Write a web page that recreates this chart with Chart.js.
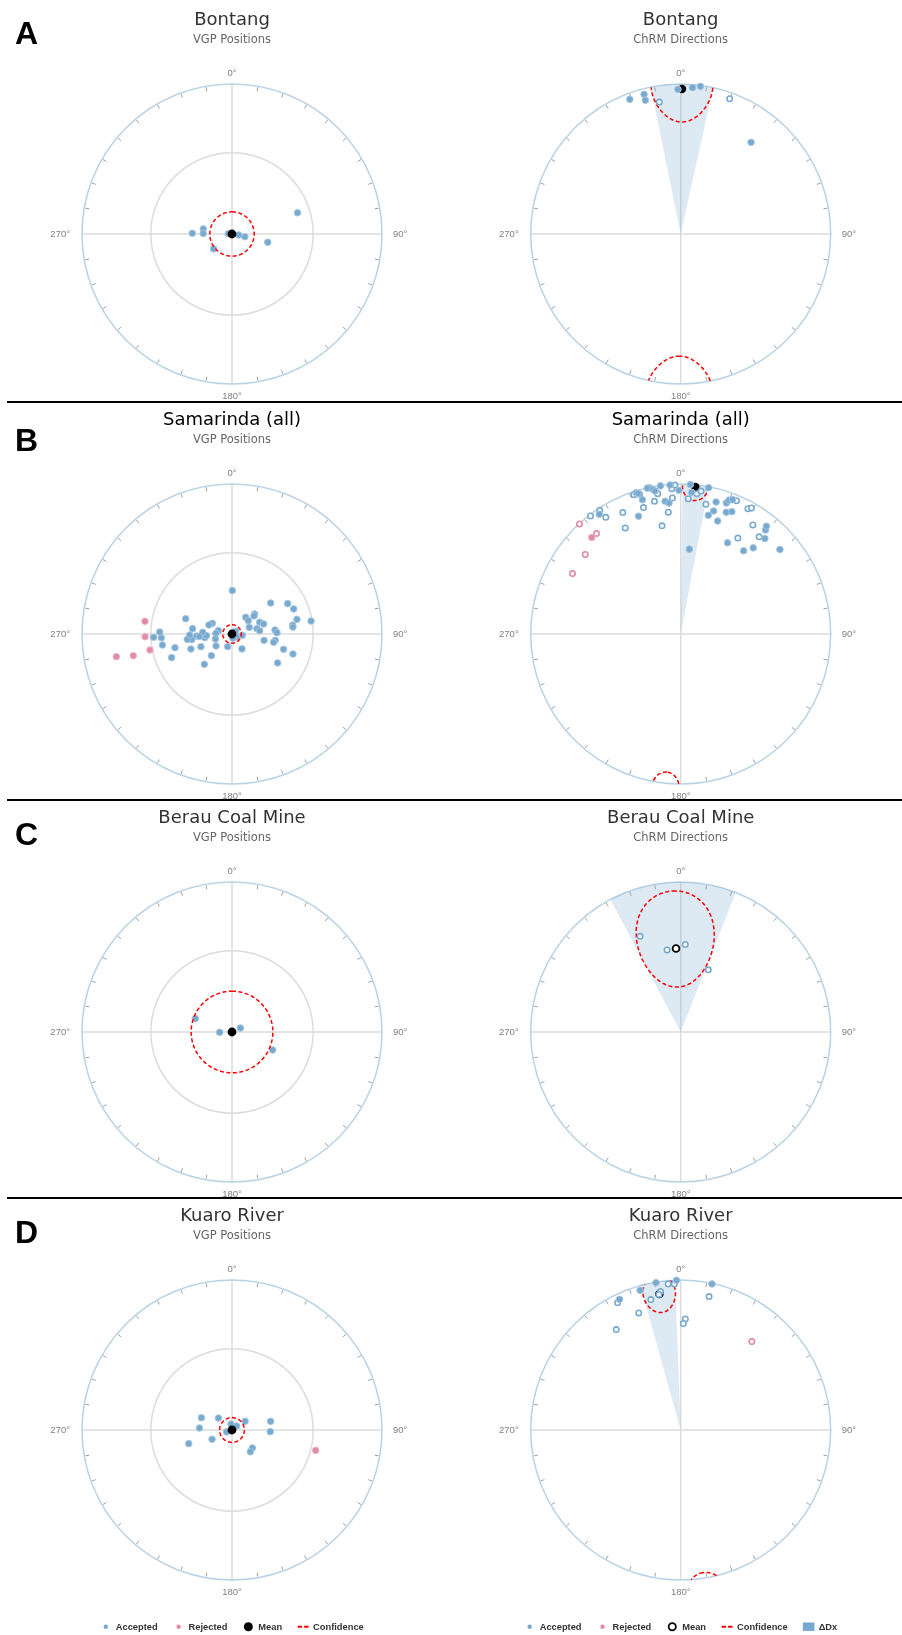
<!DOCTYPE html>
<html lang="en">
<head>
<meta charset="UTF-8">
<title>VGP positions and ChRM directions</title>
<script src="https://cdn.jsdelivr.net/npm/chart.js"></script>
<style>
  body { margin: 0; background: #fff; overflow: hidden; }
  #page { position: relative; width: 902px; height: 1635px; overflow: hidden; background: #fff; }
  canvas { position: absolute; }
  .rule { position: absolute; left: 7px; width: 895px; height: 2px; background: #000; z-index: 2; }
  .letter { position: absolute; left: 15px; z-index: 3; color: #000;
            font: bold 32px "Liberation Sans", Arial, sans-serif; line-height: 32px; }
</style>
</head>
<body>
<div id="page">
  <div class="letter" style="top:16.5px">A</div>
  <div class="letter" style="top:424px">B</div>
  <div class="letter" style="top:818px">C</div>
  <div class="letter" style="top:1216px">D</div>
  <div class="rule" style="top:401px"></div>
  <div class="rule" style="top:799px"></div>
  <div class="rule" style="top:1197px"></div>
</div>
<script>
// ---- labels ----
var azimuthLabels = ['0°', '90°', '180°', '270°'];
var siteNames = ['Bontang', 'Samarinda (all)', 'Berau Coal Mine', 'Kuaro River'];
var plotSubtitles = ['VGP Positions', 'ChRM Directions'];
var vgpLegend = ['Accepted', 'Rejected', 'Mean', 'Confidence'];
var chrmLegend = ['Accepted', 'Rejected', 'Mean', 'Confidence', 'ΔDx'];

// ---- site means (ChRM direction + A95), mean VGP sits at the pole ----
var meanDec = [0.5, 5.7, 356.8, 351.1];
var meanInc = [3.7, 1.7, -43.6, -9.1];
var a95 = [12, 5, 22.2, 6.7];
var meanPoleLon = [0, 0, 0, 0];
var meanPoleLat = [90, 90, 90, 90];

// ---- A: Bontang ----
var bontangVgpLon = [72, 271, 280, 271, 231, 275, 98, 102, 103];
var bontangVgpLat = [52.1, 68.4, 74.2, 74.4, 77.2, 88.0, 86.3, 82.9, 70.1];
var bontangRejVgpLon = [];
var bontangRejVgpLat = [];
var bontangDec = [339.3, 345.3, 345.2, 350.8, 358.9, 4.6, 7.6, 19.9, 37.5];
var bontangInc = [4.5, 4.2, 8.6, -11.9, 4.0, 2.4, 0.8, -4.6, 24.0];
var bontangRejDec = [];
var bontangRejInc = [];

// ---- B: Samarinda (all) ----
var samarindaVgpLon = [0.4, 51.3, 61.4, 67.9, 80.7, 77.3, 81.6, 83.5, 48.6, 50.7, 39.4, 50.8, 67.1, 72.5, 78.0,
  83.1, 69.0, 84.7, 88.3, 98.3, 101.3, 101.2, 106.5, 108.2, 122.4, 146.3, 97.4, 53.1, 122.3, 198.9, 167.5,
  283.7, 272.4, 253.3, 233.1, 223.6, 222.4, 298.5, 291.4, 262.4, 266.3, 273.3, 247.8, 266.8, 249.9, 262.0,
  263.2, 268.6, 277.7, 288.3, 256.5, 248.6, 261.0, 267.0, 271.6, 267.6, 265.9];
var samarindaVgpLat = [66.4, 63.0, 55.2, 53.4, 45.6, 53.4, 56.4, 56.4, 73.6, 74.6, 78.3, 78.6, 73.7, 72.0, 76.2,
  74.9, 80.0, 66.5, 65.5, 66.2, 66.9, 72.3, 60.6, 54.8, 60.5, 80.3, 84.4, 87.5, 87.1, 82.8, 87.7,
  82.4, 81.3, 80.6, 79.2, 73.8, 67.7, 77.9, 76.6, 75.1, 76.1, 74.1, 71.8, 70.8, 66.2, 67.9,
  65.5, 67.0, 68.4, 63.4, 57.9, 54.4, 51.2, 51.0, 50.1, 46.6, 72.2];
var samarindaRejVgpLon = [278.3, 268.2, 259.0, 257.6, 258.9];
var samarindaRejVgpLat = [41.0, 41.6, 43.6, 33.1, 22.5];
var samarindaDec = [348.0, 347.1, 349.1, 349.8, 352.2, 355.9, 359.3, 3.7, 10.8, 342.5, 343.2, 344.1, 353.3, 354.9,
  340.3, 325.8, 15.0, 19.2, 19.8, 21.1, 15.0, 13.1, 20.5, 22.7, 18.1, 27.2, 37.1, 40.1, 41.4, 39.2, 38.5, 49.6,
  5.8, 4.4,
  341.4, 343.6, 350.7, 348.8, 356.5, 356.5, 357.8, 6.6, 8.1, 3.2, 11.0, 22.7, 28.2, 29.3, 33.5, 38.9, 30.8,
  350.2, 354.2, 343.6, 334.5, 332.4, 322.6, 326.8, 327.3];
var samarindaInc = [0.5, 0.3, 2.0, 3.5, 0.4, 0.5, 4.7, 0.2, 0.8, 1.4, 2.3, 7.7, 11.9, 13.4,
  17.7, 3.9, 9.8, 8.3, 5.8, 4.5, 16.2, 19.9, 14.4, 12.6, 21.8, 32.2, 31.1, 25.9, 16.3, 11.5, 9.0, 14.2,
  42.6, 5.9,
  -2.3, -3.3, -5.8, -10.8, -10.0, -3.3, -0.7, -6.5, -4.2, -10.6, -12.9, -4.1, -5.8, -4.1, -13.9, -17.9, -26.5,
  -27.7, -19.5, -13.2, -11.3, -21.3, -1.1, -1.7, -8.4];
var samarindaRejDec = [317.4, 320.0, 309.8, 299.2, 317.3];
var samarindaRejInc = [-0.4, -13.7, -18.3, -18.5, 13.5];

// ---- C: Berau Coal Mine ----
var berauVgpLon = [290.0, 268.5, 64.4, 113.9];
var berauVgpLat = [68.8, 83.3, 85.0, 65.8];
var berauRejVgpLon = [];
var berauRejVgpLat = [];
var berauDec = [337.0, 350.6, 3.0, 23.9];
var berauInc = [-31.3, -43.8, -41.2, -52.6];
var berauRejDec = [];
var berauRejInc = [];

// ---- D: Kuaro River ----
var kuaroVgpLon = [291.9, 311.3, 273.5, 245.0, 252.5, 250.8, 350.9, 49.6, 56.3, 77.4, 92.5, 131.5, 139.8];
var kuaroVgpLat = [72.1, 80.2, 72.3, 78.1, 65.3, 86.9, 86.8, 86.7, 81.5, 68.5, 69.2, 75.3, 74.6];
var kuaroRejVgpLon = [103.7];
var kuaroRejVgpLat = [42.1];
var kuaroDec = [350.5, 358.4, 343.8, 334.9, 12.1, 333.6, 340.3, 327.3, 347.1, 351.7, 350.9, 355.1, 357.5, 12.0, 2.4, 1.4];
var kuaroInc = [0.5, 0.2, 3.4, 4.3, 0.5, -6.0, -18.2, -21.5, -11.8, -7.5, -9.3, -2.6, -2.9, -10.0, -26.8, -29.7];
var kuaroRejDec = [38.8];
var kuaroRejInc = [-25.3];

var vgpLon = [bontangVgpLon, samarindaVgpLon, berauVgpLon, kuaroVgpLon];
var vgpLat = [bontangVgpLat, samarindaVgpLat, berauVgpLat, kuaroVgpLat];
var rejVgpLon = [bontangRejVgpLon, samarindaRejVgpLon, berauRejVgpLon, kuaroRejVgpLon];
var rejVgpLat = [bontangRejVgpLat, samarindaRejVgpLat, berauRejVgpLat, kuaroRejVgpLat];
var dirDec = [bontangDec, samarindaDec, berauDec, kuaroDec];
var dirInc = [bontangInc, samarindaInc, berauInc, kuaroInc];
var rejDec = [bontangRejDec, samarindaRejDec, berauRejDec, kuaroRejDec];
var rejInc = [bontangRejInc, samarindaRejInc, berauRejInc, kuaroRejInc];

var BLUE = 'rgb(120,169,207)', BLUE_EDGE = 'rgb(165,198,224)';
var PINK = 'rgb(224,139,170)', PINK_EDGE = 'rgb(238,180,202)';
var RAD = Math.PI / 180;

// equal-area projection, radius 1 at the horizon / equator
function project(az, plunge) {
  var r = Math.sqrt(1 - Math.sin(Math.abs(plunge) * RAD));
  return { x: r * Math.sin(az * RAD), y: r * Math.cos(az * RAD) };
}

function toPoints(az, pl, keep) {
  var out = [];
  for (var i = 0; i < az.length; i++) {
    if (!keep || keep(pl[i])) out.push(project(az[i], pl[i]));
  }
  return out;
}

// small circle of radius a around (azimuth, elevation); returns [az, elev] pairs
function smallCircle(az0, el0, a) {
  var c = (90 - el0) * RAD, D = az0 * RAD, A = a * RAD;
  var P = [Math.sin(c) * Math.cos(D), Math.sin(c) * Math.sin(D), Math.cos(c)];
  var e1 = [Math.cos(c) * Math.cos(D), Math.cos(c) * Math.sin(D), -Math.sin(c)];
  var e2 = [-Math.sin(D), Math.cos(D), 0];
  var out = [];
  for (var t = 0; t <= 360; t++) {
    var T = t * RAD, q = [];
    for (var k = 0; k < 3; k++) {
      q[k] = Math.cos(A) * P[k] + Math.sin(A) * (Math.cos(T) * e1[k] + Math.sin(T) * e2[k]);
    }
    out.push([Math.atan2(q[1], q[0]) / RAD, Math.asin(Math.max(-1, Math.min(1, q[2]))) / RAD]);
  }
  return out;
}

// A95 cone around the mean pole turned into directions (tan I = 2 tan lat)
function directionEllipse(dec, inc, a) {
  var lam = Math.atan(Math.tan(Math.abs(inc) * RAD) / 2) / RAD;
  var out = [], prev = null;
  smallCircle(dec, lam, a).forEach(function (p) {
    var down = p[1] >= 0;
    var i = Math.atan(2 * Math.tan(Math.abs(p[1]) * RAD)) / RAD;
    if (prev !== null && down !== prev) out.push({ x: null, y: null });
    out.push(project(down ? p[0] : p[0] + 180, i));
    prev = down;
  });
  return out;
}

function deltaDxWedge(dec, inc, a) {
  var lam = Math.atan(Math.tan(Math.abs(inc) * RAD) / 2);
  var dDx = Math.asin(Math.min(1, Math.sin(a * RAD) / Math.cos(lam))) / RAD;
  var out = [{ x: 0, y: 0 }];
  for (var k = 0; k <= 40; k++) out.push(project(dec - dDx + 2 * dDx * k / 40, 0));
  return out;
}

function pointSet(label, pts, fill, edge, radius, width, order) {
  return { label: label, data: pts, showLine: false, pointRadius: radius, pointHoverRadius: radius,
    pointBackgroundColor: fill, pointBorderColor: edge, pointBorderWidth: width, order: order, clip: false };
}

function lineSet(label, pts, order) {
  return { label: label, data: pts, showLine: true, pointRadius: 0, borderColor: '#ff0000', borderWidth: 1.5,
    borderDash: [4, 2.5], fill: false, tension: 0, spanGaps: false, order: order, clip: false };
}

function vgpDatasets(s) {
  var circle = smallCircle(meanPoleLon[s], meanPoleLat[s], a95[s]).map(function (p) { return project(p[0], p[1]); });
  return [
    pointSet('Mean', [project(meanPoleLon[s], meanPoleLat[s])], '#000', '#000', 4.4, 0, 0),
    lineSet('Confidence', circle, 1),
    pointSet('Rejected', toPoints(rejVgpLon[s], rejVgpLat[s]), PINK, PINK_EDGE, 3.3, 1, 2),
    pointSet('Accepted', toPoints(vgpLon[s], vgpLat[s]), BLUE, BLUE_EDGE, 3.3, 1, 3)
  ];
}

function chrmDatasets(s) {
  var down = function (i) { return i >= 0; };
  var up = function (i) { return i < 0; };
  var meanUp = meanInc[s] < 0;
  return [
    pointSet('Accepted', toPoints(dirDec[s], dirInc[s], down), BLUE, BLUE_EDGE, 3.3, 1, 0),
    pointSet('Accepted', toPoints(dirDec[s], dirInc[s], up), '#fff', BLUE, 2.7, 1.6, 0),
    pointSet('Rejected', toPoints(rejDec[s], rejInc[s], down), PINK, PINK_EDGE, 3.3, 1, 1),
    pointSet('Rejected', toPoints(rejDec[s], rejInc[s], up), '#fff', PINK, 2.7, 1.6, 1),
    pointSet('Mean', [project(meanDec[s], meanInc[s])], meanUp ? '#fff' : '#000', '#000',
      meanUp ? 3.4 : 4.2, meanUp ? 1.8 : 0, 2),
    lineSet('Confidence', directionEllipse(meanDec[s], meanInc[s], a95[s]), 3),
    { label: 'ΔDx', data: deltaDxWedge(meanDec[s], meanInc[s], a95[s]), showLine: false, pointRadius: 0,
      wedgeColor: 'rgba(120,169,207,0.25)', order: 5, clip: false }
  ];
}

// net frame: cross, 45° circle, primitive, 10° ticks, azimuth labels
var stereoGrid = {
  id: 'stereoGrid',
  beforeDatasetsDraw: function (chart, args, opts) {
    var ctx = chart.ctx, xs = chart.scales.x, ys = chart.scales.y;
    var cx = xs.getPixelForValue(0), cy = ys.getPixelForValue(0);
    var R = xs.getPixelForValue(1) - cx;
    ctx.save();
    ctx.lineWidth = 1.5;
    ctx.strokeStyle = '#dcdcdc';
    ctx.beginPath();
    ctx.moveTo(cx - R, cy); ctx.lineTo(cx + R, cy);
    ctx.moveTo(cx, cy - R); ctx.lineTo(cx, cy + R);
    ctx.stroke();
    if (opts.innerLat != null) {
      var ri = cy - ys.getPixelForValue(project(0, opts.innerLat).y);
      ctx.beginPath(); ctx.arc(cx, cy, ri, 0, 2 * Math.PI); ctx.stroke();
    }
    ctx.strokeStyle = '#b9d2e4';
    ctx.beginPath(); ctx.arc(cx, cy, R, 0, 2 * Math.PI); ctx.stroke();
    ctx.strokeStyle = '#a0a0a0';
    ctx.lineWidth = 1;
    ctx.beginPath();
    for (var a = 10; a < 360; a += 10) {
      if (a % 90 === 0) continue;
      var sn = Math.sin(a * RAD), cs = Math.cos(a * RAD);
      ctx.moveTo(cx + sn * (R - 1), cy - cs * (R - 1));
      ctx.lineTo(cx + sn * (R - 5), cy - cs * (R - 5));
    }
    ctx.stroke();
    ctx.fillStyle = '#808080';
    ctx.font = '9.5px "Liberation Sans", Arial, sans-serif';
    ctx.textBaseline = 'middle';
    ctx.textAlign = 'center';
    ctx.fillText(azimuthLabels[0], cx, cy - R - 11);
    ctx.fillText(azimuthLabels[2], cx, cy + R + 12);
    ctx.textAlign = 'left';
    ctx.fillText(azimuthLabels[1], cx + R + 11, cy);
    ctx.textAlign = 'right';
    ctx.fillText(azimuthLabels[3], cx - R - 12, cy);
    ctx.restore();
  }
};

// shaded ΔDx sector, filled from the dataset's own point positions
var wedgeFill = {
  id: 'wedgeFill',
  beforeDatasetDraw: function (chart, args) {
    var ds = chart.data.datasets[args.index];
    if (!ds.wedgeColor) return;
    var pts = args.meta.data, ctx = chart.ctx;
    ctx.save();
    ctx.fillStyle = ds.wedgeColor;
    ctx.beginPath();
    pts.forEach(function (p, i) { if (i) ctx.lineTo(p.x, p.y); else ctx.moveTo(p.x, p.y); });
    ctx.closePath();
    ctx.fill();
    ctx.restore();
  }
};

var stereoLegend = {
  id: 'stereoLegend',
  afterDraw: function (chart, args, opts) {
    if (!opts.items || !opts.items.length) return;
    var ctx = chart.ctx, cx = chart.scales.x.getPixelForValue(0), y = opts.y;
    ctx.save();
    ctx.font = 'bold 9.3px "Liberation Sans", Arial, sans-serif';
    var widths = opts.items.map(function (it) { return ctx.measureText(it.text).width; });
    var total = 15.5 * (opts.items.length - 1);
    widths.forEach(function (w) { total += 15.5 + w; });
    var x = cx - total / 2;
    opts.items.forEach(function (it, i) {
      var sx = x + 5.5;
      ctx.setLineDash([]);
      ctx.beginPath();
      if (it.kind === 'dot') {
        ctx.fillStyle = it.color; ctx.arc(sx, y, 2.2, 0, 2 * Math.PI); ctx.fill();
      } else if (it.kind === 'bigdot') {
        ctx.fillStyle = '#000'; ctx.arc(sx, y, 4.5, 0, 2 * Math.PI); ctx.fill();
      } else if (it.kind === 'ring') {
        ctx.strokeStyle = '#000'; ctx.lineWidth = 1.8; ctx.arc(sx, y, 3.6, 0, 2 * Math.PI); ctx.stroke();
      } else if (it.kind === 'dash') {
        ctx.strokeStyle = '#ff0000'; ctx.lineWidth = 2; ctx.setLineDash([4.5, 2]);
        ctx.moveTo(sx - 5.5, y); ctx.lineTo(sx + 5.5, y); ctx.stroke();
      } else if (it.kind === 'rect') {
        ctx.fillStyle = it.color; ctx.fillRect(sx - 5.8, y - 4.2, 11.6, 8.4);
      }
      ctx.setLineDash([]);
      ctx.fillStyle = '#333';
      ctx.textAlign = 'left';
      ctx.textBaseline = 'middle';
      ctx.fillText(it.text, sx + 10, y + 0.5);
      x = sx + 10 + widths[i] + 15.5;
    });
    ctx.restore();
  }
};

Chart.defaults.font.family = '"DejaVu Sans", sans-serif';

var page = document.getElementById('page');
var rowTop = [0, 400, 798, 1196];
var colPad = [82, 79.7];
var titleColors = ['#333', '#000', '#333', '#333'];

for (var s = 0; s < 4; s++) {
  for (var c = 0; c < 2; c++) {
    var h = s === 3 ? 439 : 400;
    var cv = document.createElement('canvas');
    cv.width = 451;
    cv.height = h;
    cv.style.left = (c * 451) + 'px';
    cv.style.top = rowTop[s] + 'px';
    page.appendChild(cv);

    var legendItems = [];
    if (s === 3) {
      var names = c === 0 ? vgpLegend : chrmLegend;
      var kinds = ['dot', 'dot', c === 0 ? 'bigdot' : 'ring', 'dash', 'rect'];
      var cols = [BLUE, PINK, '#000', '#f00', '#76a9cf'];
      legendItems = names.map(function (n, i) { return { text: n, kind: kinds[i], color: cols[i] }; });
    }

    new Chart(cv, {
      type: 'line',
      data: { datasets: c === 0 ? vgpDatasets(s) : chrmDatasets(s) },
      options: {
        responsive: false,
        animation: false,
        events: [],
        layout: { padding: { left: colPad[c], right: 451 - colPad[c] - 300, top: 0, bottom: h - 384 } },
        scales: {
          x: { type: 'linear', min: -1, max: 1, display: false },
          y: { type: 'linear', min: -1, max: 1, display: false }
        },
        plugins: {
          legend: { display: false },
          tooltip: { enabled: false },
          title: { display: true, text: siteNames[s], color: titleColors[s],
            font: { family: '"DejaVu Sans", sans-serif', size: 18, weight: 'normal' },
            padding: { top: 9.2, bottom: 0 } },
          subtitle: { display: true, text: plotSubtitles[c], color: '#666',
            font: { family: '"DejaVu Sans", sans-serif', size: 11.5, weight: 'normal' },
            padding: { top: 2.3, bottom: 37.1 } },
          stereoGrid: { innerLat: c === 0 ? 45 : null },
          stereoLegend: { items: legendItems, y: 430.7 }
        }
      },
      plugins: [stereoGrid, wedgeFill, stereoLegend]
    });
  }
}
</script>
</body>
</html>
